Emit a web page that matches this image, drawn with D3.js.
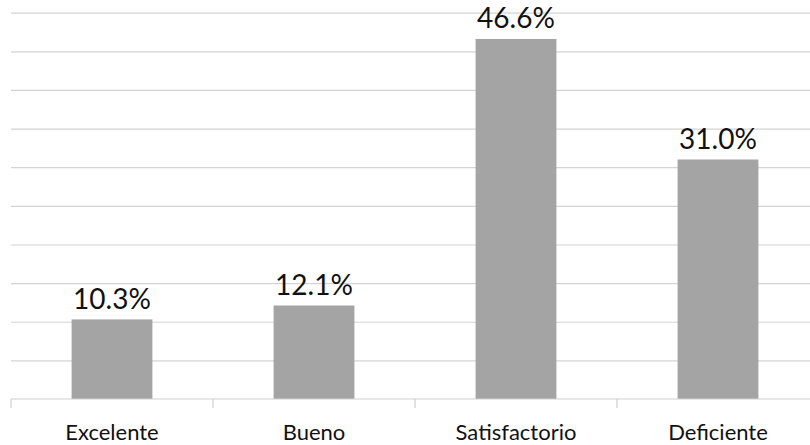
<!DOCTYPE html>
<html><head><meta charset="utf-8">
<script src="https://cdn.jsdelivr.net/npm/d3@7"></script>
<style>
html,body{margin:0;padding:0;background:#fff;}
svg{display:block;}
</style>
</head><body>
<svg id="chart" width="810" height="445"></svg>
<script>
const categories = ["Excelente", "Bueno", "Satisfactorio", "Deficiente"];
const values = [10.3, 12.1, 46.6, 31.0];
const yTicks = [0, 5, 10, 15, 20, 25, 30, 35, 40, 45, 50];

(function () {
const svg = d3.select("#chart");
const mLeft = 11, mRight = 819, mTop = 12.7, mBottom = 399;

const x = d3.scaleBand().domain(categories).range([mLeft, mRight]).paddingInner(0.6).paddingOuter(0.3);
const y = d3.scaleLinear().domain([0, 50]).range([mBottom, mTop]);

// gridlines
svg.append("g")
  .attr("transform", `translate(${mLeft},0)`)
  .call(d3.axisLeft(y).tickValues(yTicks.slice(1)).tickSize(-(mRight - mLeft)).tickFormat(""))
  .call(g => g.select(".domain").remove())
  .call(g => g.selectAll("line").attr("stroke", "#d4d4d4").attr("stroke-width", 1.2));

// bars
svg.append("g").selectAll("rect").data(values).join("rect")
  .attr("x", (d, i) => x(categories[i]))
  .attr("y", d => y(d))
  .attr("width", x.bandwidth())
  .attr("height", d => y(0) - y(d))
  .attr("fill", "#a4a4a4");

// x axis baseline and ticks at band boundaries
const step = x.step();
const bounds = categories.map(c => x(c) - step * x.paddingInner() / 2);
bounds.push(x(categories[categories.length - 1]) + x.bandwidth() + step * x.paddingInner() / 2);
const axisG = svg.append("g");
axisG.append("line")
  .attr("x1", mLeft).attr("x2", mRight).attr("y1", y(0)).attr("y2", y(0))
  .attr("stroke", "#cfcfcf").attr("stroke-width", 1.2);
axisG.selectAll(".tk").data(bounds).join("line")
  .attr("class", "tk")
  .attr("x1", d => d).attr("x2", d => d)
  .attr("y1", y(0)).attr("y2", y(0) + 9)
  .attr("stroke", "#cfcfcf").attr("stroke-width", 1.2);

// category labels
svg.append("g").selectAll("text").data(categories).join("text")
  .attr("x", d => x(d) + x.bandwidth() / 2)
  .attr("y", 440)
  .attr("text-anchor", "middle")
  .attr("font-family", "Lato, 'Open Sans', sans-serif")
  .attr("font-size", 22)
  .attr("fill", "#111")
  .text(d => d);

// value labels
svg.append("g").selectAll("text").data(values).join("text")
  .attr("x", (d, i) => x(categories[i]) + x.bandwidth() / 2)
  .attr("y", d => y(d) - 10.5)
  .attr("text-anchor", "middle")
  .attr("font-family", "Lato, 'Open Sans', sans-serif")
  .attr("font-size", 28)
  .attr("fill", "#111")
  .text(d => d.toFixed(1) + "%");
})();
</script>
</body></html>
